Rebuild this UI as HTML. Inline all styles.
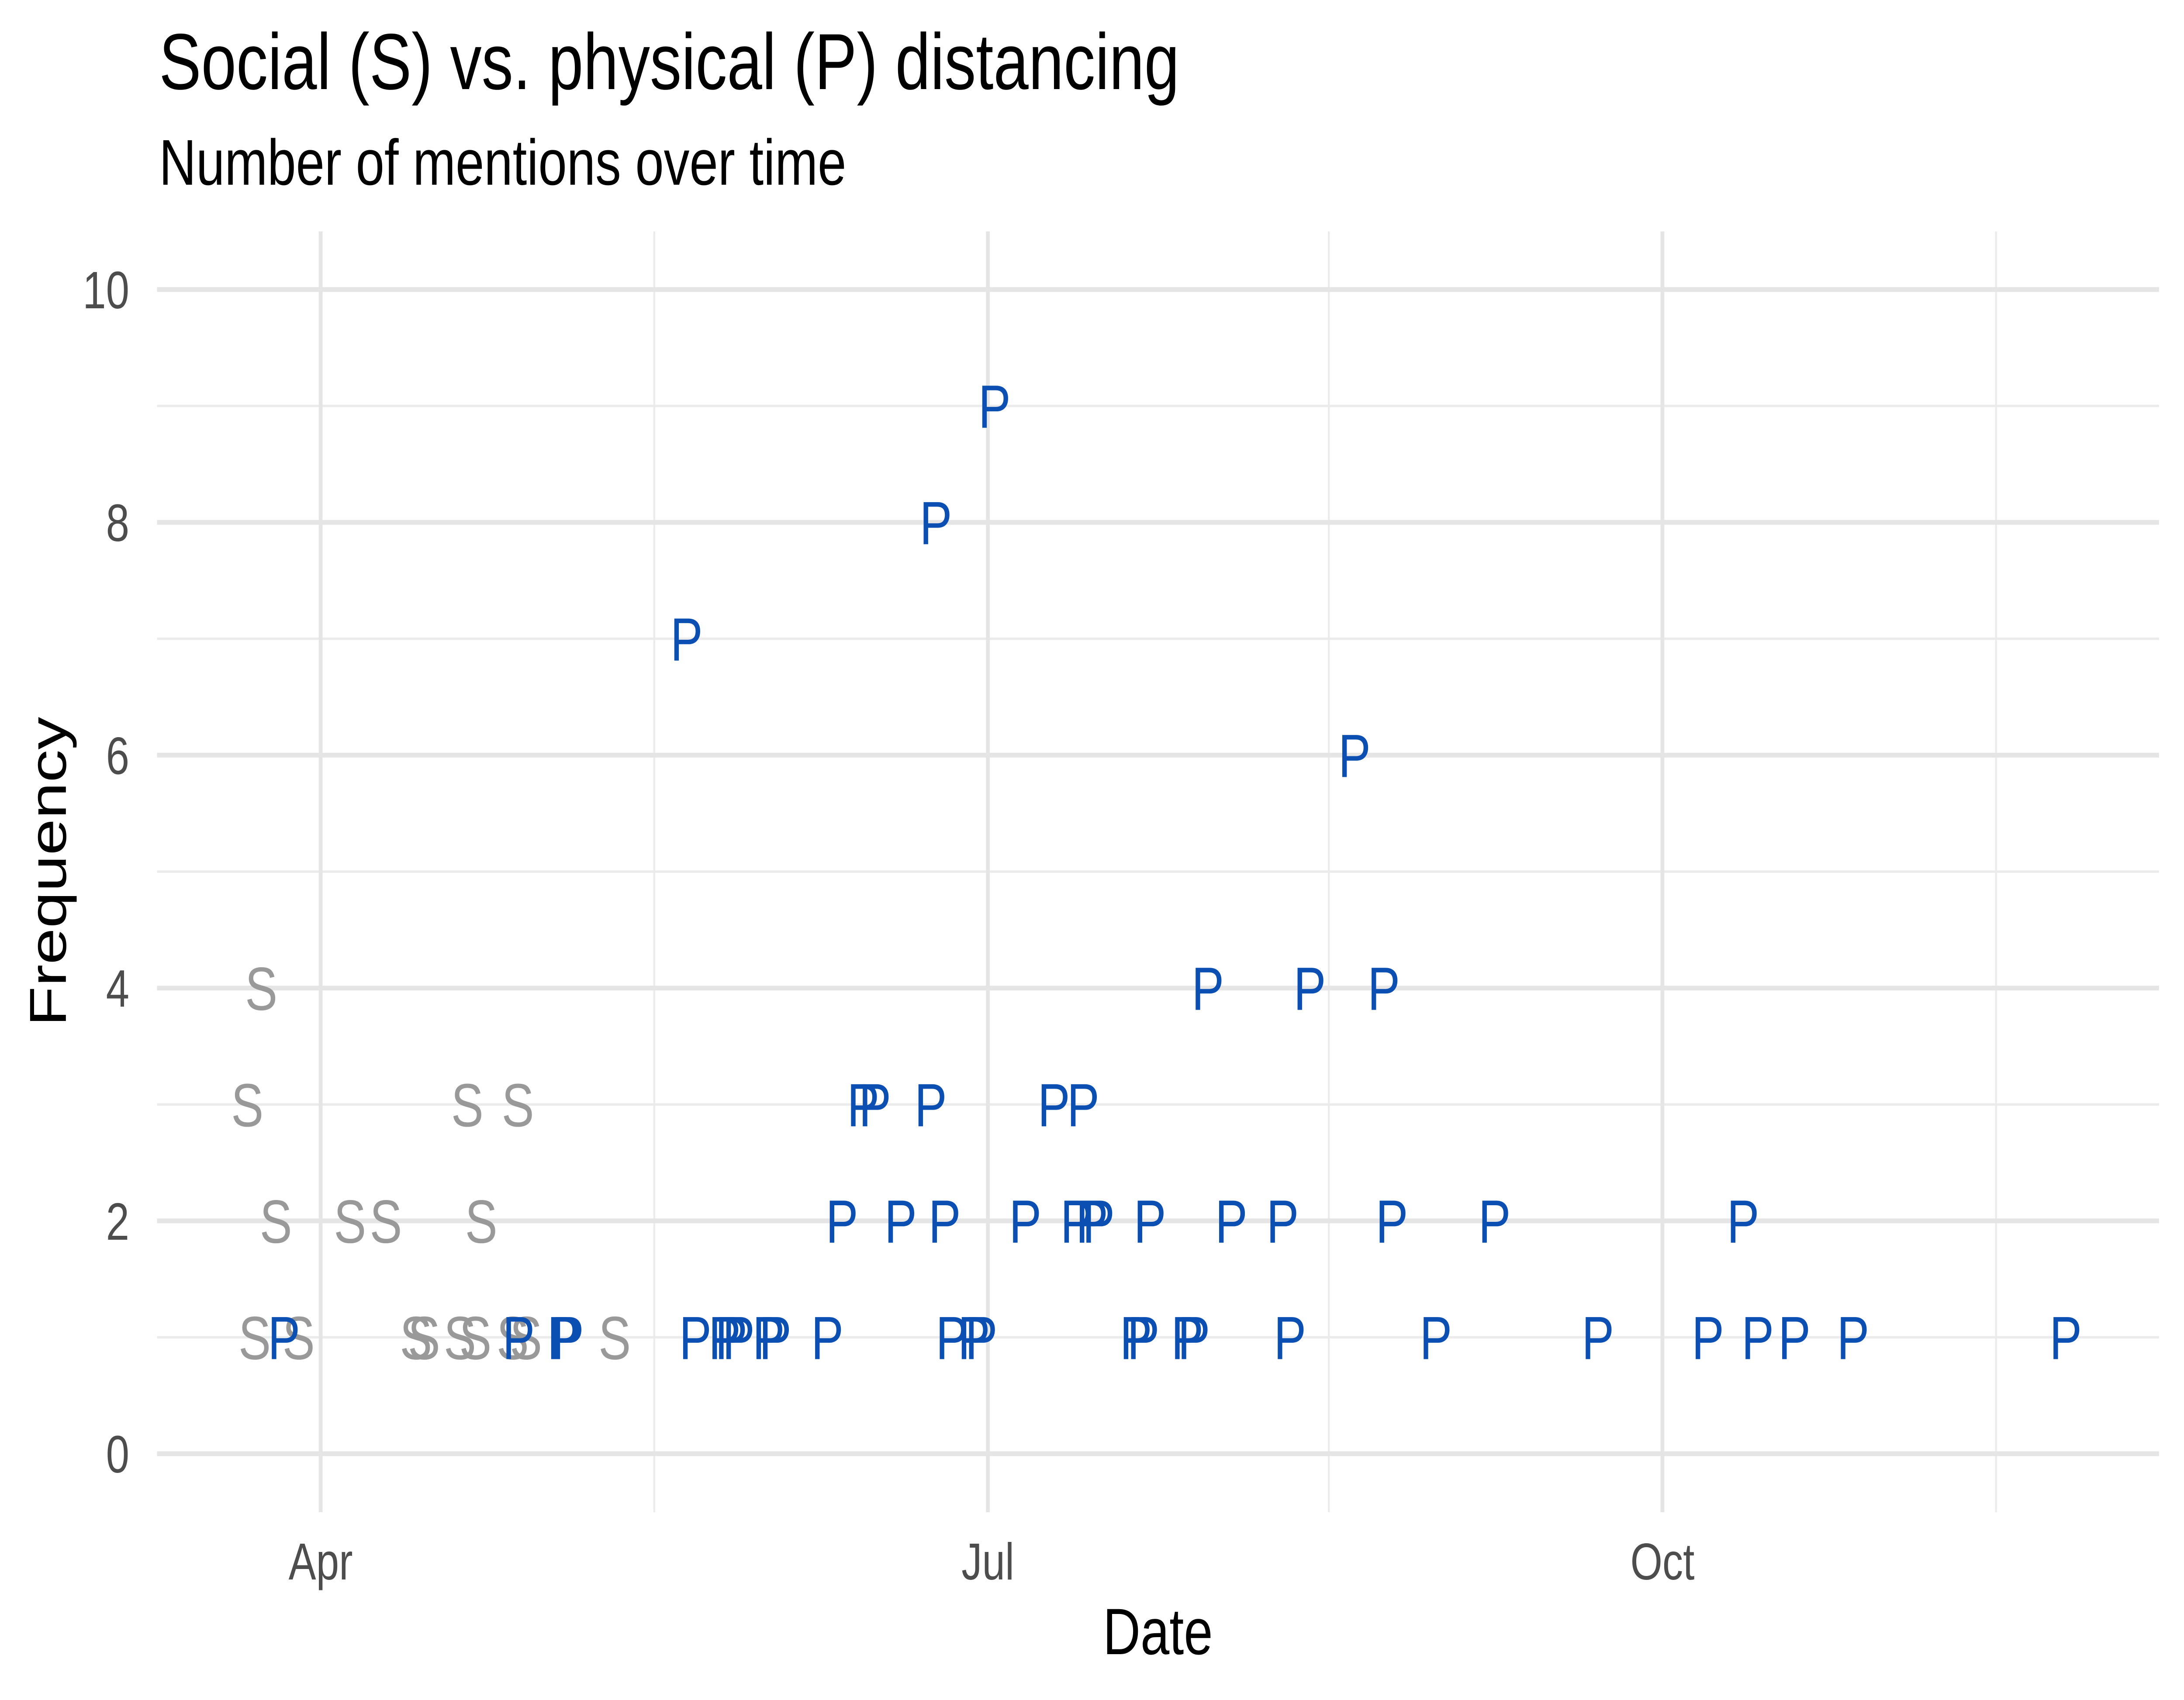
<!DOCTYPE html>
<html><head><meta charset="utf-8">
<style>html,body{margin:0;padding:0;background:#fff;overflow:hidden;width:100%;height:100%;}svg{display:block;width:100vw;height:100vh;font-family:"Liberation Sans",Arial,sans-serif;}</style>
</head><body>
<svg id="chart" viewBox="0 0 6300 3893" preserveAspectRatio="none" xmlns="http://www.w3.org/2000/svg">
<rect width="6300" height="3893" fill="#fff"/>
<text x="459" y="204" font-size="182" fill="#000">Social (S) vs. physical (P) distancing</text>
<text x="459" y="423" font-size="148" fill="#000">Number of mentions over time</text>
<g id="grid"></g>
<g id="yticks"></g>
<g id="xticks"></g>
<g id="marks"></g>
<text x="3340" y="3788" font-size="150" text-anchor="middle" fill="#000">Date</text>
<text transform="translate(190,1996) rotate(-90)" font-size="150" text-anchor="middle" fill="#000">Frequency</text>
</svg>
<script>
// days since Apr 1 (2020)
const socialDays = [-8.1, -10.0, 20.0, 26.9, -6.1, 4.0, 8.9, 21.9, -9.0, -3.0, 13.0, 14.1, 19.0, 21.1, 26.2, 28.0, 40.1];
const socialCounts = [4, 3, 3, 3, 2, 2, 2, 2, 1, 1, 1, 1, 1, 1, 1, 1, 1];
const physicalDays = [91.9, 83.9, 49.9, 141.0, 121.0, 134.9, 145.0, 74.0, 75.6, 83.2, 100.0, 104.0,
  71.1, 79.1, 85.1, 96.1, 103.1, 105.2, 106.1, 113.1, 124.2, 131.2, 146.1, 160.1, 194.0,
  -5.0, 27.0, 33.1, 33.7, 51.1, 55.1, 56.0, 57.0, 61.1, 62.0, 69.1, 86.1, 89.1, 90.1,
  111.2, 112.2, 118.2, 119.1, 132.2, 152.1, 174.2, 189.2, 196.0, 201.0, 209.0, 238.0];
const physicalCounts = [9, 8, 7, 6, 4, 4, 4, 3, 3, 3, 3, 3,
  2, 2, 2, 2, 2, 2, 2, 2, 2, 2, 2, 2, 2,
  1, 1, 1, 1, 1, 1, 1, 1, 1, 1, 1, 1, 1, 1,
  1, 1, 1, 1, 1, 1, 1, 1, 1, 1, 1, 1];
const yTicks = [0, 2, 4, 6, 8, 10];
const yMinor = [1, 3, 5, 7, 9];
const xTickDays = [0, 91, 183];
const xTickLabels = ["Apr", "Jul", "Oct"];
const xMinorDays = [45.5, 137.5, 228.5];

const NS = "http://www.w3.org/2000/svg";
const X0 = 925, PX_DAY = 21.15, Y0 = 3329, PX_UNIT = 266.6;
const L = 453, R = 6228, T = 530, B = 3463;
const xs = d => X0 + d * PX_DAY;
const ys = v => Y0 - v * PX_UNIT;
function mk(tag, attrs, parent) {
  const e = document.createElementNS(NS, tag);
  for (const k in attrs) e.setAttribute(k, attrs[k]);
  parent.appendChild(e);
  return e;
}
const grid = document.getElementById('grid');
yMinor.forEach(v => {
  const l = mk('line', {x1: L, x2: R, y1: ys(v), y2: ys(v), stroke: '#ebebeb', 'stroke-width': 5.5}, grid);
  
  
});
xMinorDays.forEach(d => {
  const l = mk('line', {x1: xs(d), x2: xs(d), y1: T, y2: B, stroke: '#ebebeb', 'stroke-width': 5.5}, grid);
  
  
});
yTicks.forEach(v => {
  const l = mk('line', {x1: L, x2: R, y1: ys(v), y2: ys(v), stroke: '#e5e5e5', 'stroke-width': 11}, grid);
  
  
});
xTickDays.forEach(d => {
  const l = mk('line', {x1: xs(d), x2: xs(d), y1: T, y2: B, stroke: '#e5e5e5', 'stroke-width': 11}, grid);
  
  
});
const yt = document.getElementById('yticks');
yTicks.forEach(v => {
  const t = mk('text', {x: 373, y: ys(v) + 43, 'font-size': 121, 'text-anchor': 'end', fill: '#4d4d4d'}, yt);
  t.textContent = v;
  
  
});
const xt = document.getElementById('xticks');
xTickDays.forEach((d, i) => {
  const t = mk('text', {x: xs(d), y: 3617, 'font-size': 119, 'text-anchor': 'middle', fill: '#4d4d4d'}, xt);
  t.textContent = xTickLabels[i];
  
  
});
const marks = document.getElementById('marks');
socialDays.forEach((d, i) => {
  const t = mk('text', {x: xs(d), y: ys(socialCounts[i]) + 50, 'font-size': 140, 'text-anchor': 'middle', fill: '#999999'}, marks);
  t.textContent = 'S';
  
  
});
physicalDays.forEach((d, i) => {
  const t = mk('text', {x: xs(d), y: ys(physicalCounts[i]) + 50, 'font-size': 140, 'text-anchor': 'middle', fill: '#0b4fb2'}, marks);
  t.textContent = 'P';
  
  
});
</script>
</body></html>
